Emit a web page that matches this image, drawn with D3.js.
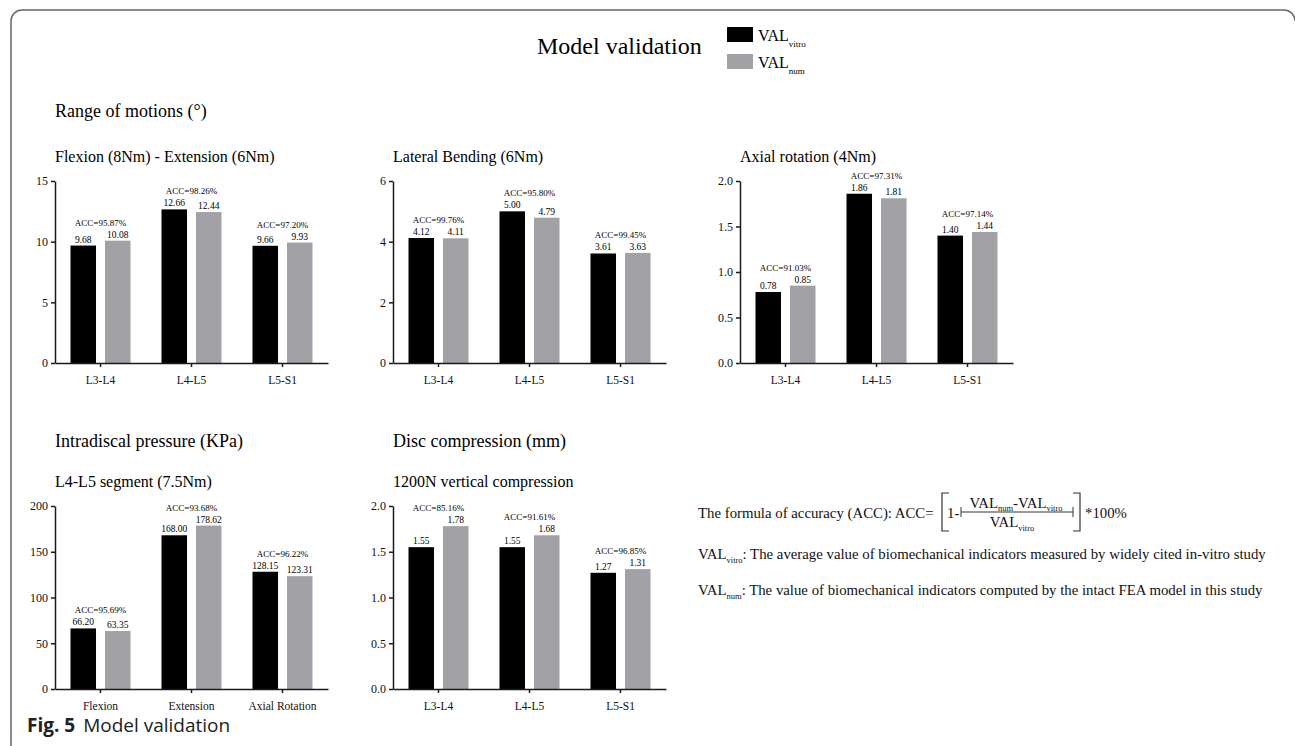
<!DOCTYPE html>
<html>
<head>
<meta charset="utf-8">
<script src="https://cdn.jsdelivr.net/npm/d3@7"></script>
<style>
  body { margin: 0; background: #fff; }
  svg { display: block; }
  .axis path, .axis line { stroke: #1a1a1a; stroke-width: 1.5; }
  .axis text { fill: #111; }
</style>
</head>
<body>
<div id="container"></div>
<script>
const W = 1295, H = 746;
const serif = "'Liberation Serif', 'Times New Roman', serif";

// DATA
const segments = ["L3-L4", "L4-L5", "L5-S1"];
const idpLoads = ["Flexion", "Extension", "Axial Rotation"];

const flexExtVitro = [9.68, 12.66, 9.66];
const flexExtNum   = [10.08, 12.44, 9.93];
const flexExtAcc   = [95.87, 98.26, 97.20];

const latBendVitro = [4.12, 5.00, 3.61];
const latBendNum   = [4.11, 4.79, 3.63];
const latBendAcc   = [99.76, 95.80, 99.45];

const axRotVitro = [0.78, 1.86, 1.40];
const axRotNum   = [0.85, 1.81, 1.44];
const axRotAcc   = [91.03, 97.31, 97.14];

const idpVitro = [66.20, 168.00, 128.15];
const idpNum   = [63.35, 178.62, 123.31];
const idpAcc   = [95.69, 93.68, 96.22];

const discVitro = [1.55, 1.55, 1.27];
const discNum   = [1.78, 1.68, 1.31];
const discAcc   = [85.16, 91.61, 96.85];

const flexExtTicks = [0, 5, 10, 15];
const latBendTicks = [0, 2, 4, 6];
const axRotTicks   = [0, 0.5, 1.0, 1.5, 2.0];
const idpTicks     = [0, 50, 100, 150, 200];
const discTicks    = [0, 0.5, 1.0, 1.5, 2.0];

const series = ["vitro", "num"];
const colors = {vitro: "#000000", num: "#a2a1a6"};

// SVG
const svg = d3.select('#container')
              .append('svg')
              .attr('width', W)
              .attr('height', H);

// frame
svg.append('path')
   .attr('d', 'M11,746 L11,21 A11,11 0 0 1 22,10 L1284,10 A11,11 0 0 1 1295,21')
   .attr('fill', 'none')
   .attr('stroke', '#666')
   .attr('stroke-width', 1.5);

// TITLE + LEGEND
svg.append('text')
   .attr('x', 537).attr('y', 54)
   .style('font-family', serif).style('font-size', '24px')
   .text('Model validation');

const legend = svg.append('g').attr('id', 'legend');
series.forEach((s, i) => {
  legend.append('rect')
        .attr('x', 727).attr('y', 27 + i * 27)
        .attr('width', 26).attr('height', 15)
        .attr('fill', colors[s]);
  const t = legend.append('text')
        .attr('x', 758).attr('y', 41 + i * 27)
        .style('font-family', serif).style('font-size', '16px');
  t.append('tspan').text('VAL');
  t.append('tspan').attr('dy', 6).style('font-size', '9px').text(s);
});

// section headings
const headings = [
  {x: 55,  y: 117, size: 18, text: 'Range of motions (°)'},
  {x: 55,  y: 162, size: 16, text: 'Flexion (8Nm) - Extension (6Nm)'},
  {x: 393, y: 162, size: 16, text: 'Lateral Bending (6Nm)'},
  {x: 740, y: 162, size: 16, text: 'Axial rotation (4Nm)'},
  {x: 55,  y: 447, size: 18, text: 'Intradiscal pressure (KPa)'},
  {x: 393, y: 447, size: 18, text: 'Disc compression (mm)'},
  {x: 55,  y: 487, size: 16, text: 'L4-L5 segment (7.5Nm)'},
  {x: 393, y: 487, size: 16, text: '1200N vertical compression'}
];
svg.selectAll('text.heading')
   .data(headings).enter()
   .append('text')
   .attr('class', 'heading')
   .attr('x', d => d.x).attr('y', d => d.y)
   .style('font-family', serif)
   .style('font-size', d => d.size + 'px')
   .text(d => d.text);

// PANELS
const panels = [
  {cats: segments, vitro: flexExtVitro, num: flexExtNum, acc: flexExtAcc, ticks: flexExtTicks, fmt: 'd',   x: 55,  top: 181, zero: 363},
  {cats: segments, vitro: latBendVitro, num: latBendNum, acc: latBendAcc, ticks: latBendTicks, fmt: 'd',   x: 393, top: 181, zero: 363},
  {cats: segments, vitro: axRotVitro,   num: axRotNum,   acc: axRotAcc,   ticks: axRotTicks,   fmt: '.1f', x: 740, top: 181, zero: 363},
  {cats: idpLoads, vitro: idpVitro,     num: idpNum,     acc: idpAcc,     ticks: idpTicks,     fmt: 'd',   x: 55,  top: 506, zero: 689},
  {cats: segments, vitro: discVitro,    num: discNum,    acc: discAcc,    ticks: discTicks,    fmt: '.1f', x: 393, top: 506, zero: 689}
];

const panelWidth = 273;

function drawPanel(p) {
  const g = svg.append('g');

  const x = d3.scaleBand()
              .domain(p.cats)
              .range([p.x, p.x + panelWidth])
              .padding(0);
  const xInner = d3.scaleBand()
                   .domain(series)
                   .range([15.5, x.bandwidth() - 15.5])
                   .paddingInner(0.26);
  const y = d3.scaleLinear()
              .domain([0, d3.max(p.ticks)])
              .range([p.zero, p.top]);

  const rows = p.cats.map((c, i) => ({cat: c, vitro: p.vitro[i], num: p.num[i], acc: p.acc[i]}));
  const bars = [];
  rows.forEach(r => series.forEach(s => bars.push({cat: r.cat, s: s, v: r[s]})));

  // bars
  g.selectAll('rect.bar')
   .data(bars).enter()
   .append('rect')
   .attr('class', 'bar')
   .attr('x', d => x(d.cat) + xInner(d.s))
   .attr('width', xInner.bandwidth())
   .attr('y', d => y(d.v))
   .attr('height', d => y(0) - y(d.v))
   .attr('fill', d => colors[d.s]);

  // value labels
  g.selectAll('text.val')
   .data(bars).enter()
   .append('text')
   .attr('class', 'val')
   .attr('x', d => x(d.cat) + xInner(d.s) + xInner.bandwidth() / 2)
   .attr('y', d => y(d.v) - 3)
   .attr('text-anchor', 'middle')
   .style('font-family', serif).style('font-size', '9.5px')
   .text(d => d3.format('.2f')(d.v));

  // accuracy labels
  g.selectAll('text.acc')
   .data(rows).enter()
   .append('text')
   .attr('class', 'acc')
   .attr('x', d => x(d.cat) + x.bandwidth() / 2)
   .attr('y', d => y(Math.max(d.vitro, d.num)) - 15)
   .attr('text-anchor', 'middle')
   .style('font-family', serif).style('font-size', '9px')
   .text(d => 'ACC=' + d3.format('.2f')(d.acc) + '%');

  // axes
  g.append('g')
   .attr('class', 'axis')
   .attr('transform', `translate(${p.x},0)`)
   .call(d3.axisLeft(y).tickValues(p.ticks).tickFormat(d3.format(p.fmt)).tickSize(4).tickSizeOuter(0))
   .call(a => a.selectAll('text').style('font-family', serif).style('font-size', '12px'));

  g.append('g')
   .attr('class', 'axis')
   .attr('transform', `translate(0,${p.zero})`)
   .call(d3.axisBottom(x).tickSize(4).tickSizeOuter(0).tickPadding(9))
   .call(a => a.selectAll('text').style('font-family', serif).style('font-size', '11.5px'));
}

panels.forEach(drawPanel);

// FORMULA
const fx = 698, fy = 518, fs = '14.8px';
const formula = svg.append('g').style('font-family', serif).style('font-size', fs).style('fill', '#111');

formula.append('text').attr('x', fx).attr('y', fy).text('The formula of accuracy (ACC): ACC=');
// brackets
formula.append('path')
       .attr('d', `M949,${fy - 25} L942,${fy - 25} L942,${fy + 13} L949,${fy + 13}`)
       .attr('fill', 'none').attr('stroke', '#333').attr('stroke-width', 1.2);
formula.append('path')
       .attr('d', `M1073,${fy - 25} L1080,${fy - 25} L1080,${fy + 13} L1073,${fy + 13}`)
       .attr('fill', 'none').attr('stroke', '#333').attr('stroke-width', 1.2);
formula.append('text').attr('x', 947).attr('y', fy).text('1-');
// fraction line with absolute-value bars
formula.append('path')
       .attr('d', `M961,${fy - 11} L961,${fy - 1} M961,${fy - 6} L1073,${fy - 6} M1073,${fy - 11} L1073,${fy - 1}`)
       .attr('fill', 'none').attr('stroke', '#333').attr('stroke-width', 1);
const numer = formula.append('text').attr('x', 1016).attr('y', fy - 10).attr('text-anchor', 'middle');
numer.append('tspan').text('VAL');
numer.append('tspan').attr('dy', 3).style('font-size', '8.5px').text('num');
numer.append('tspan').attr('dy', -3).text('-VAL');
numer.append('tspan').attr('dy', 3).style('font-size', '8.5px').text('vitro');
const denom = formula.append('text').attr('x', 1012).attr('y', fy + 9).attr('text-anchor', 'middle');
denom.append('tspan').text('VAL');
denom.append('tspan').attr('dy', 4).style('font-size', '8.5px').text('vitro');
formula.append('text').attr('x', 1085).attr('y', fy).text('*100%');

// definitions
const defs = [
  {sub: 'vitro', y: 559, text: ': The average value of biomechanical indicators measured by widely cited in-vitro study'},
  {sub: 'num',   y: 595, text: ': The value of biomechanical indicators computed by the intact FEA model in this study'}
];
defs.forEach(d => {
  const t = formula.append('text').attr('x', fx).attr('y', d.y);
  t.append('tspan').text('VAL');
  t.append('tspan').attr('dy', 4).style('font-size', '8.5px').text(d.sub);
  t.append('tspan').attr('dy', -4).text(d.text);
});

// CAPTION
const cap = svg.append('text')
               .attr('x', 27).attr('y', 732)
               .style('font-family', "'Open Sans', sans-serif")
               .style('font-size', '19px')
               .style('fill', '#222');
cap.append('tspan').style('font-weight', 'bold').text('Fig. 5');
cap.append('tspan').attr('dx', 8).text('Model validation');
</script>
</body>
</html>
